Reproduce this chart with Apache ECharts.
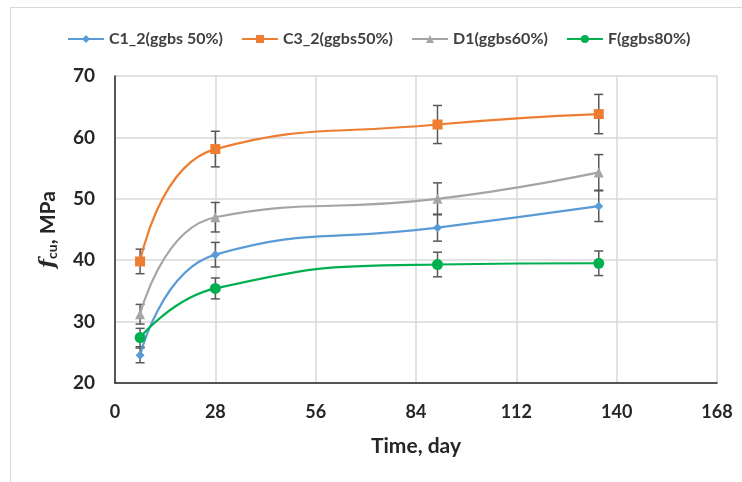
<!DOCTYPE html>
<html>
<head>
<meta charset="utf-8">
<script src="https://cdn.jsdelivr.net/npm/echarts@6/dist/echarts.min.js"></script>
<style>
  html, body { margin: 0; padding: 0; background: #fff; }
  #frame { position: absolute; left: 10px; top: 7px; width: 740px; height: 480px; border-left: 1px solid #d9d9d9; border-top: 1px solid #d9d9d9; }
  #chart { position: absolute; left: 0; top: 0; width: 742px; height: 482px; }
</style>
</head>
<body>
<div id="frame"></div>
<div id="chart"></div>
<script>
// 数据
const days = [7, 28, 90, 135];
const seriesNames = ['C1_2(ggbs 50%)', 'C3_2(ggbs50%)', 'D1(ggbs60%)', 'F(ggbs80%)'];
const c1Values = [24.5, 40.9, 45.3, 48.8];
const c3Values = [39.8, 58.1, 62.1, 63.8];
const d1Values = [31.2, 47.0, 50.0, 54.3];
const fValues = [27.4, 35.4, 39.3, 39.5];
const c1Err = [1.2, 2.0, 2.2, 2.5];
const c3Err = [2.0, 2.9, 3.1, 3.2];
const d1Err = [1.6, 2.4, 2.6, 2.9];
const fErr = [1.5, 1.7, 2.0, 2.0];
const xTicks = [0, 28, 56, 84, 112, 140, 168];

const colors = ['#5B9BD5', '#ED7D31', '#A5A5A5', '#00B050'];
const symbols = ['diamond', 'rect', 'triangle', 'circle'];
const symbolSizes = [9, 10, 10, 11];
const allValues = [c1Values, c3Values, d1Values, fValues];
const allErr = [c1Err, c3Err, d1Err, fErr];

const font = 'Lato';
const textColor = '#262626';

const chart = echarts.init(document.getElementById('chart'));

const lineSeries = seriesNames.map((name, i) => ({
  name: name,
  type: 'line',
  smooth: 0.5,
  data: days.map((d, j) => [d, allValues[i][j]]),
  symbol: symbols[i],
  symbolSize: symbolSizes[i],
  lineStyle: { color: colors[i], width: 2.2 },
  itemStyle: { color: colors[i] },
  z: 4
}));

// 误差棒
const errSeries = seriesNames.map((name, i) => ({
  type: 'custom',
  silent: true,
  z: 3,
  data: days.map((d, j) => [d, allValues[i][j] - allErr[i][j], allValues[i][j] + allErr[i][j]]),
  renderItem: function (params, api) {
    const lo = api.coord([api.value(0), api.value(1)]);
    const hi = api.coord([api.value(0), api.value(2)]);
    const w = 4.5;
    const style = { stroke: '#595959', lineWidth: 1.5 };
    return {
      type: 'group',
      children: [
        { type: 'line', shape: { x1: lo[0], y1: lo[1], x2: hi[0], y2: hi[1] }, style: style },
        { type: 'line', shape: { x1: lo[0] - w, y1: lo[1], x2: lo[0] + w, y2: lo[1] }, style: style },
        { type: 'line', shape: { x1: hi[0] - w, y1: hi[1], x2: hi[0] + w, y2: hi[1] }, style: style }
      ]
    };
  }
}));

const option = {
  animation: false,
  legend: {
    data: seriesNames,
    left: 62,
    top: 26,
    itemWidth: 36,
    itemHeight: 10,
    itemGap: 18,
    textStyle: { fontFamily: font, fontSize: 16, fontWeight: 'bold', color: '#404040' }
  },
  grid: { left: 115, right: 25, top: 76, bottom: 99 },
  xAxis: {
    type: 'value',
    min: xTicks[0],
    max: xTicks[xTicks.length - 1],
    interval: 28,
    name: 'Time, day',
    nameLocation: 'middle',
    nameGap: 53,
    nameTextStyle: { fontFamily: font, fontSize: 21, fontWeight: 'bold', color: textColor },
    axisLine: { lineStyle: { color: textColor, width: 1.5 } },
    axisTick: { show: false },
    axisLabel: { margin: 20, fontFamily: font, fontSize: 18, fontWeight: 'bold', color: textColor },
    splitLine: { show: true, lineStyle: { color: '#d9d9d9', width: 1.5 } }
  },
  yAxis: {
    type: 'value',
    min: 20,
    max: 70,
    interval: 10,
    name: '{f|f}{sub|cu}{n|, MPa}',
    nameLocation: 'middle',
    nameGap: 56,
    nameRotate: 90,
    nameTextStyle: {
      color: textColor,
      rich: {
        f: { fontFamily: 'DejaVu Serif', fontStyle: 'italic', fontWeight: 'bold', fontSize: 21, color: textColor, lineHeight: 24, verticalAlign: 'bottom' },
        sub: { fontFamily: font, fontWeight: 'bold', fontSize: 14, color: textColor, lineHeight: 24, verticalAlign: 'bottom', padding: [8, 0, 0, 0] },
        n: { fontFamily: font, fontWeight: 'bold', fontSize: 21, color: textColor, lineHeight: 24, verticalAlign: 'bottom' }
      }
    },
    axisLine: { show: true, lineStyle: { color: textColor, width: 1.5 } },
    axisTick: { show: false },
    axisLabel: { margin: 20, fontFamily: font, fontSize: 19, fontWeight: 'bold', color: textColor },
    splitLine: { show: true, lineStyle: { color: '#d9d9d9', width: 1.5 } }
  },
  series: lineSeries.concat(errSeries)
};

chart.setOption(option);
</script>
</body>
</html>
